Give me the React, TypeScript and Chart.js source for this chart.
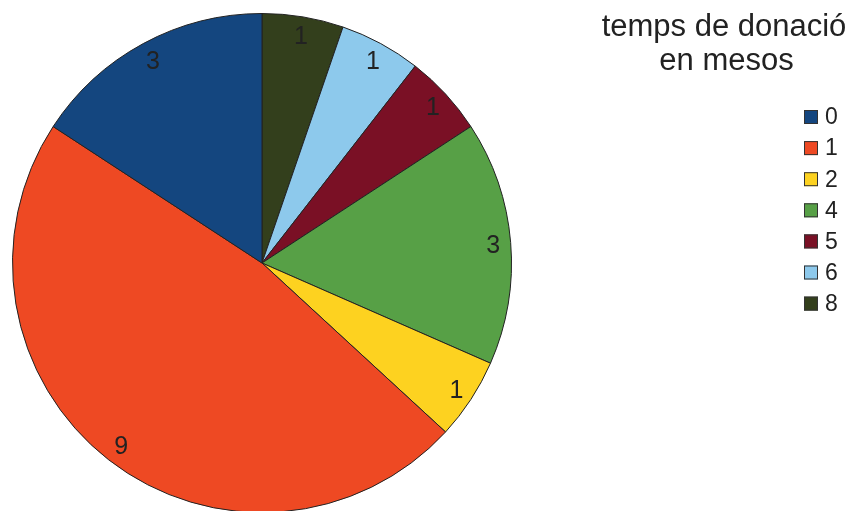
import React, { useEffect, useRef } from "react";
import { Chart, registerables } from "chart.js";

Chart.register(...registerables);

const categories = ["0", "1", "2", "4", "5", "6", "8"];
const values = [3, 9, 1, 3, 1, 1, 1];
const colors = ["#14467F", "#EE4923", "#FDD220", "#57A046", "#7A1025", "#8DC9EC", "#333F1C"];
const titleLines = ["temps de donació", "en mesos"];

const W = 849;
const H = 530;
const FONT = "'Liberation Sans', Arial, sans-serif";

const overlay = {
  id: "overlay",
  afterDatasetsDraw(chart: any) {
    const ctx = chart.ctx;
    const meta = chart.getDatasetMeta(0);
    const data = chart.data.datasets[0].data as number[];
    ctx.save();
    ctx.fillStyle = "#222222";
    ctx.font = `25px ${FONT}`;
    ctx.textAlign = "center";
    ctx.textBaseline = "middle";
    meta.data.forEach((arc: any, i: number) => {
      const { x, y, startAngle, endAngle, outerRadius } = arc.getProps(
        ["x", "y", "startAngle", "endAngle", "outerRadius"],
        true
      );
      const mid = (startAngle + endAngle) / 2;
      const r = outerRadius * 0.926;
      ctx.fillText(String(data[i]), x + Math.cos(mid) * r + 1, y + Math.sin(mid) * r + 2);
    });

    // title
    ctx.font = `31px ${FONT}`;
    ctx.textBaseline = "alphabetic";
    ctx.fillText(titleLines[0], 724, 36);
    ctx.fillText(titleLines[1], 726.5, 70);

    // legend
    ctx.font = `23px ${FONT}`;
    ctx.textAlign = "left";
    ctx.textBaseline = "middle";
    categories.forEach((c, i) => {
      const cy = 117 + i * 31.1;
      ctx.fillStyle = colors[i];
      ctx.fillRect(804, cy - 7, 14, 14);
      ctx.strokeStyle = "#333333";
      ctx.lineWidth = 1;
      ctx.strokeRect(804.5, cy - 6.5, 13, 13);
      ctx.fillStyle = "#222222";
      ctx.fillText(c, 825, cy + 1);
    });
    ctx.restore();
  },
};

export default function App() {
  const ref = useRef<HTMLCanvasElement>(null);
  useEffect(() => {
    if (!ref.current) return;
    const labelsRev = [...categories].reverse();
    const valuesRev = [...values].reverse();
    const colorsRev = [...colors].reverse();
    const chart = new Chart(ref.current, {
      type: "pie",
      data: {
        labels: labelsRev,
        datasets: [
          {
            data: valuesRev,
            backgroundColor: colorsRev,
            borderColor: "#222222",
            borderWidth: 1,
          },
        ],
      },
      options: {
        responsive: false,
        animation: false,
        layout: { padding: { left: 12, top: 13, right: W - 512, bottom: H - 513 } },
        plugins: {
          legend: { display: false },
          title: { display: false },
          tooltip: { enabled: false },
        },
      },
      plugins: [overlay],
    });
    return () => chart.destroy();
  }, []);
  return (
    <div
      style={{
        position: "fixed",
        left: 0,
        top: 0,
        width: W,
        height: 511,
        overflow: "hidden",
        background: "#ffffff",
      }}
    >
      <canvas ref={ref} width={W} height={H} style={{ width: W, height: H, display: "block" }} />
    </div>
  );
}
